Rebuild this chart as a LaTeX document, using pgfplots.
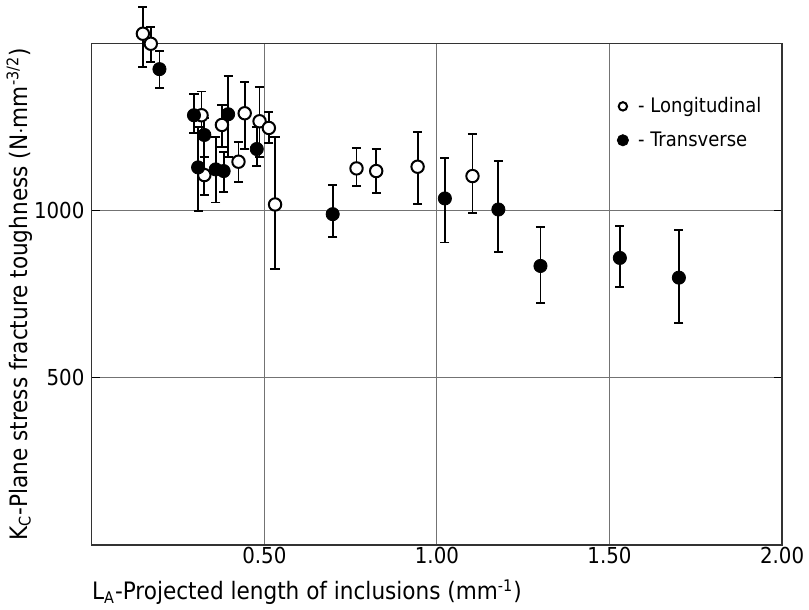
\documentclass[border=0pt]{standalone}
\usepackage{pgfplots}
\pgfplotsset{compat=1.18}
\usepackage{pgfplotstable}
\usepackage{fontspec}
\setmainfont{DejaVu Sans Condensed}

\pgfplotsset{
    openleg/.style={legend image code/.code={%
        \draw[##1, mark size=2.1pt, line width=0.8pt] plot coordinates {(0.2cm,0cm)};}},
    fullleg/.style={legend image code/.code={%
        \draw[##1, mark size=2.8pt] plot coordinates {(0.2cm,0cm)};}},
}

% x = projected length (mm^-1), y = Kc, ep/em = error bar up/down
\pgfplotstableread{
x      y     ep   em
0.148  1530  81   99
0.171  1500  51   54
0.318  1286  71   56
0.326  1107  55   60
0.377  1257  59   65
0.425  1147  58   60
0.443  1292  93   107
0.486  1268  102  108
0.513  1248  47   46
0.531  1019  203  194
0.767  1127  60   52
0.824  1119  65   65
0.944  1132  105  112
1.103  1104  125  110
}\longit

\pgfplotstableread{
x      y     ep   em
0.196  1424  55   57
0.296  1286  63   52
0.326  1227  51   65
0.308  1130  120  131
0.359  1124  98   99
0.382  1119  58   62
0.395  1289  115  127
0.478  1185  65   50
0.698  990   87   68
1.023  1037  122  132
1.178  1004  146  128
1.300  835   117  110
1.530  859   95   87
1.701  800   142  135
}\transv

\begin{document}
\begin{tikzpicture}
\begin{axis}[
    width=345pt, height=250.5pt, scale only axis,
    xmin=0, xmax=2, ymin=0, ymax=1500,
    xtick={0.5,1,1.5,2}, xticklabels={0.50,1.00,1.50,2.00},
    ytick={500,1000}, yticklabels={500,1000},
    grid=major,
    major grid style={black!55, line width=0.5pt},
    axis line style={black!80, line width=0.6pt},
    xtick style={draw=none},
    ytick style={black, line width=0.5pt},
    tick align=inside, major tick length=4pt,
    tick label style={font=\fontsize{11}{13}\selectfont},
    xticklabel style={inner sep=0pt, yshift=-1pt},
    yticklabel style={inner sep=0pt, xshift=-3.5pt},
    clip=false,
    xlabel={L\textsubscript{A}-Projected length of inclusions (mm\textsuperscript{-1})},
    ylabel={K\textsubscript{C}-Plane stress fracture toughness (N$\cdot$mm\textsuperscript{-3/2})},
    label style={font=\fontsize{12}{14}\selectfont, inner sep=0pt},
    xlabel style={at={(axis description cs:0,-0.068)}, anchor=north west},
    ylabel style={at={(axis description cs:-0.086,0.5)}, anchor=south},
    legend style={draw=none, fill=none, at={(0.752,0.91)}, anchor=north west,
        font=\fontsize{10}{12}\selectfont, row sep=4pt},
    legend cell align=left,
]
\path (rel axis cs:-0.133,-0.128) rectangle (rel axis cs:1.039,1.086);

% error bars first, markers on top
\addplot[forget plot, only marks, mark=none, black,
    error bars/.cd, y dir=both, y explicit,
    error mark=-, error mark options={rotate=90, black, line width=0.9pt, mark size=2.3pt},
    error bar style={black, line width=0.9pt}]
    table[x=x, y=y, y error plus=ep, y error minus=em] {\longit};
\addplot[forget plot, only marks, mark=none, black,
    error bars/.cd, y dir=both, y explicit,
    error mark=-, error mark options={rotate=90, black, line width=0.9pt, mark size=2.3pt},
    error bar style={black, line width=0.9pt}]
    table[x=x, y=y, y error plus=ep, y error minus=em] {\transv};

\addplot[only marks, mark=*, mark size=3.1pt,
    mark options={draw=black, fill=white, line width=1pt}, openleg]
    table[x=x, y=y] {\longit};
\addplot[only marks, mark=*, mark size=3.3pt,
    mark options={draw=black, fill=black}, fullleg]
    table[x=x, y=y] {\transv};
\legend{\ - Longitudinal, \ - Transverse}
\end{axis}
\end{tikzpicture}
\end{document}
